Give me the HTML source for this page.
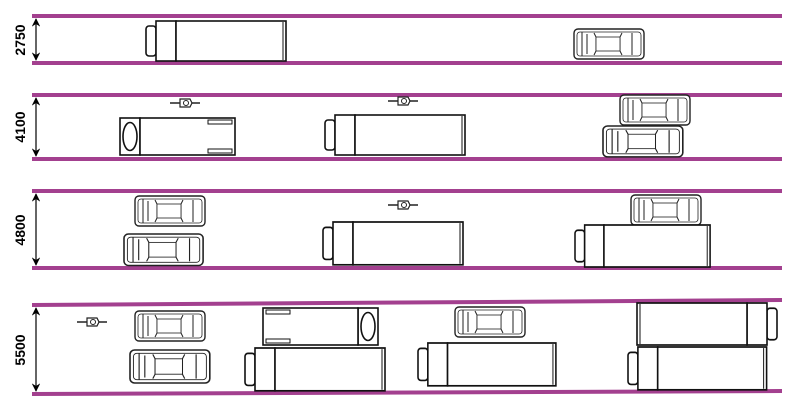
<!DOCTYPE html>
<html><head><style>body{margin:0;background:#fff}svg{display:block}</style></head>
<body>
<svg width="794" height="403" viewBox="0 0 794 403" xmlns="http://www.w3.org/2000/svg">
<defs>
<marker id="ah" viewBox="0 0 10 10" refX="9" refY="5" markerWidth="7" markerHeight="7" orient="auto-start-reverse"><path d="M0,0 L10,5 L0,10 L3,5z" fill="#000"/></marker>
<g id="car" fill="#fff" stroke="#222" stroke-width="1.4">
<rect x="0" y="0" width="70" height="30" rx="4"/>
<rect x="3" y="3" width="64" height="24" rx="3" stroke-width="0.8"/>
<path d="M8,3 L8,27 M13,5 L13,25 M20,4 L22,8 L22,22 L20,26 M48,4 L46,8 L46,22 L48,26 M58,4 L58,26" stroke-width="1"/>
<rect x="22" y="8" width="24" height="14" stroke-width="0.8"/>
</g>
<g id="truck" fill="#fff" stroke="#111" stroke-width="1.6">
<rect x="0" y="5" width="10" height="30" rx="3"/>
<rect x="10" y="0" width="20" height="40"/>
<rect x="30" y="0" width="110" height="40"/>
<line x1="137" y1="1" x2="137" y2="39" stroke-width="1"/>
</g>
<g id="rtruck" fill="#fff" stroke="#111" stroke-width="1.6">
<rect x="0" y="0" width="20" height="37"/>
<ellipse cx="10" cy="18.5" rx="7" ry="14"/>
<rect x="20" y="0" width="95" height="37"/>
<rect x="88" y="2" width="24" height="4" stroke-width="1"/>
<rect x="88" y="31" width="24" height="4" stroke-width="1"/>
</g>
<g id="bike" stroke="#222" stroke-width="1.6" fill="#fff">
<line x1="0" y1="5" x2="30" y2="5"/>
<path d="M10,1 L20,1 L22,5 L20,9 L10,9z" stroke-width="1.2"/>
<circle cx="16" cy="5" r="2.5" stroke-width="1"/>
</g>
</defs>
<g stroke="#a3408f" stroke-width="4">
<line x1="32" y1="16" x2="782" y2="16"/><line x1="32" y1="63" x2="782" y2="63"/>
<line x1="32" y1="95" x2="782" y2="95"/><line x1="32" y1="159" x2="782" y2="159"/>
<line x1="32" y1="191" x2="782" y2="191"/><line x1="32" y1="268" x2="782" y2="268"/>
<line x1="32" y1="305" x2="782" y2="300"/><line x1="32" y1="394" x2="782" y2="391"/>
</g>
<g stroke="#000" stroke-width="1.2" marker-start="url(#ah)" marker-end="url(#ah)">
<line x1="36" y1="19" x2="36" y2="60"/><line x1="36" y1="98" x2="36" y2="156"/>
<line x1="36" y1="194" x2="36" y2="265"/><line x1="36" y1="308" x2="36" y2="391"/>
</g>
<g font-family="Liberation Sans, sans-serif" font-weight="bold" font-size="14" text-anchor="middle">
<text transform="translate(25,40) rotate(-90)">2750</text>
<text transform="translate(25,127) rotate(-90)">4100</text>
<text transform="translate(25,230) rotate(-90)">4800</text>
<text transform="translate(25,350) rotate(-90)">5500</text>
</g>
<use href="#truck" x="146" y="21"/>
<use href="#car" x="574" y="29"/>
<use href="#bike" x="170" y="98"/>
<use href="#rtruck" x="120" y="118"/>
<use href="#bike" x="388" y="96"/>
<use href="#truck" x="325" y="115"/>
<use href="#car" x="620" y="95"/>
<use href="#car" transform="translate(603,126) scale(1.14,1.03)"/>
<use href="#car" x="135" y="196"/>
<use href="#car" transform="translate(124,234) scale(1.13,1.05)"/>
<use href="#bike" x="388" y="200"/>
<use href="#truck" transform="translate(323,222) scale(1.0,1.07)"/>
<use href="#car" x="631" y="195"/>
<use href="#truck" transform="translate(575,225) scale(0.965,1.05)"/>
<use href="#bike" x="77" y="317"/>
<use href="#car" x="135" y="311"/>
<use href="#car" transform="translate(130,350) scale(1.14,1.1)"/>
<use href="#rtruck" transform="translate(378,308) scale(-1,1)"/>
<use href="#truck" transform="translate(245,348) scale(1,1.07)"/>
<use href="#car" x="455" y="307"/>
<use href="#truck" transform="translate(418,343) scale(0.985,1.07)"/>
<use href="#truck" transform="translate(777,303) scale(-1,1.05)"/>
<use href="#truck" transform="translate(628,347) scale(0.99,1.07)"/>
</svg>
</body></html>
